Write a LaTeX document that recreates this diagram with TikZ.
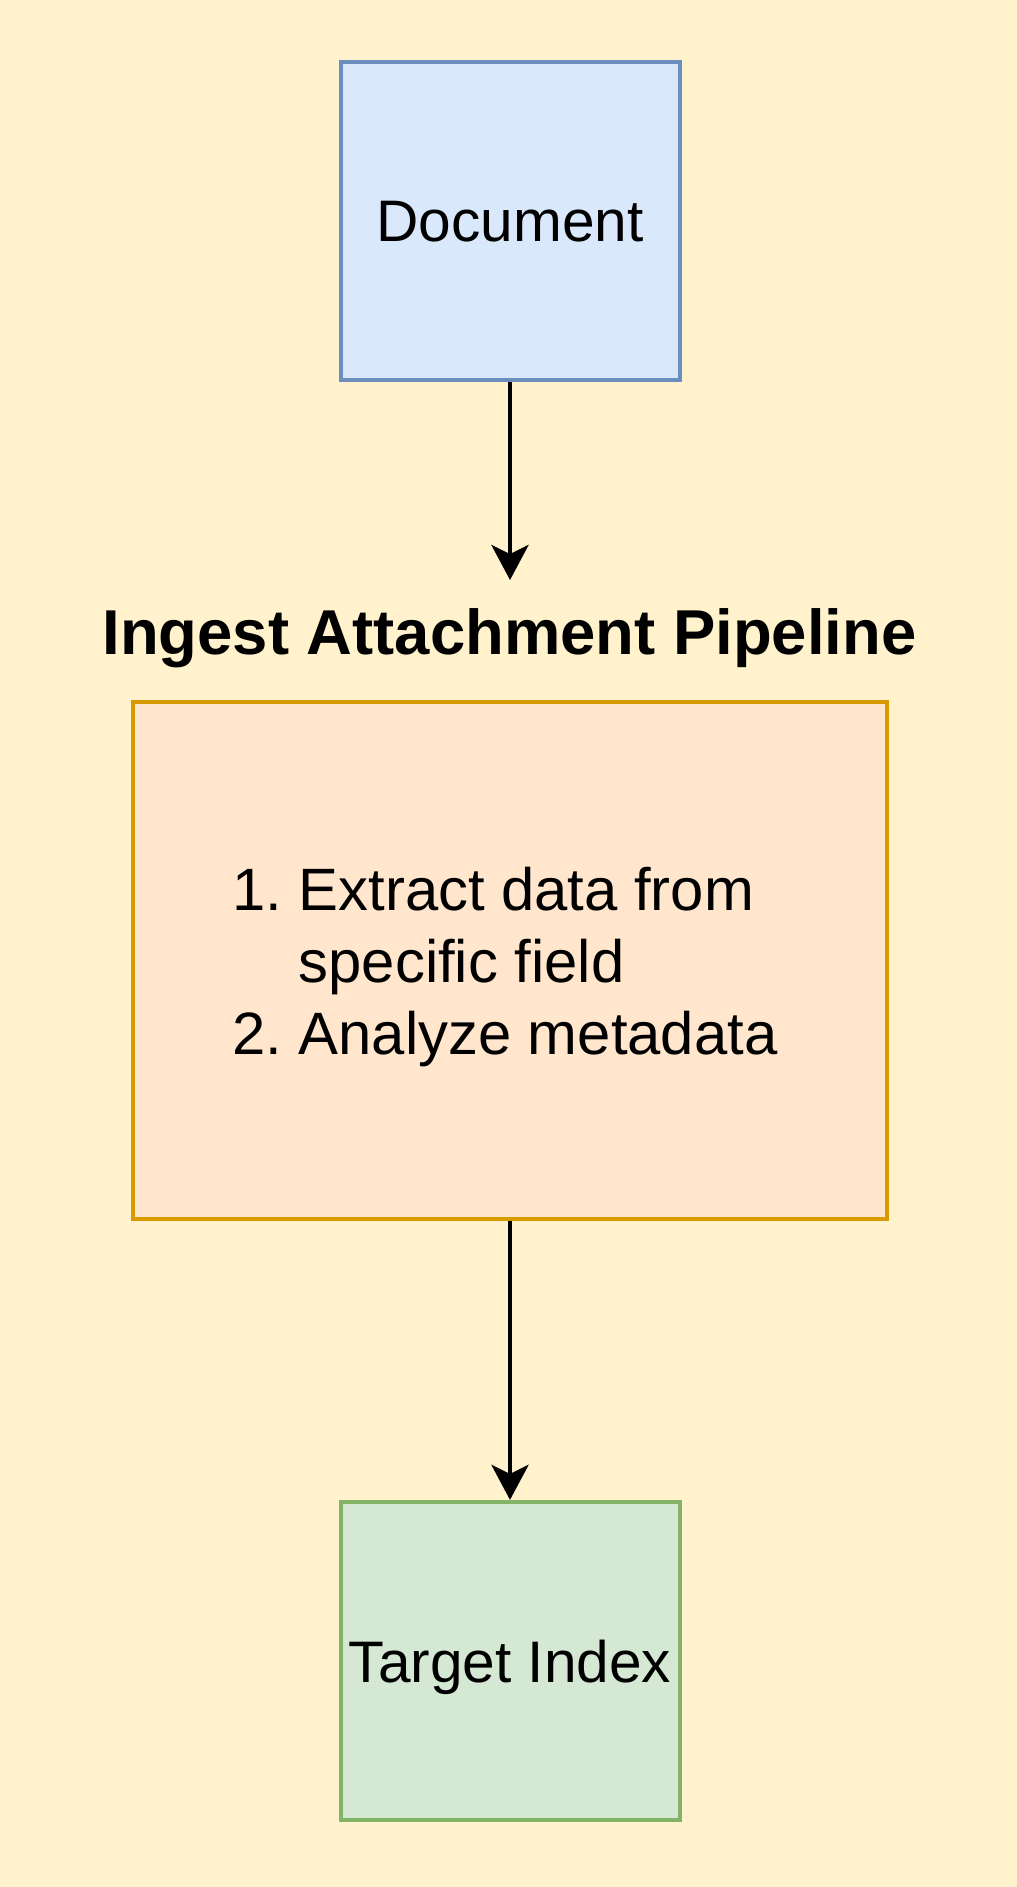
\documentclass[tikz,border=0pt]{standalone}
\usepackage{fontspec}
\setmainfont{Liberation Sans}
\usetikzlibrary{arrows.meta}
\definecolor{bg}{HTML}{FFF2CC}
\definecolor{docfill}{HTML}{DAE8FC}
\definecolor{docline}{HTML}{6C8EBF}
\definecolor{pipefill}{HTML}{FFE6CC}
\definecolor{pipeline}{HTML}{D79B00}
\definecolor{tgtfill}{HTML}{D5E8D4}
\definecolor{tgtline}{HTML}{82B366}
\begin{document}
\begin{tikzpicture}[x=1pt,y=-1pt,
  box/.style={rectangle, line width=4pt, inner sep=0pt, text depth=0pt,
    font=\fontsize{58.6}{70}\selectfont},
  arr/.style={line width=4.5pt, -{Stealth[length=35pt,width=37pt,inset=9pt]}}]
\fill[bg] (0,0) rectangle (1017,1887);
\useasboundingbox (0,0) rectangle (1017,1887);

\node (doc) [box, fill=docfill, draw=docline, minimum width=339pt, minimum height=318pt]
  at (510,220.9) {Document};

\node (title) [anchor=base, inner sep=0pt, font=\bfseries\fontsize{63.4}{76}\selectfont]
  at (509.5,654) {Ingest Attachment Pipeline};

\node (pipe) [box, fill=pipefill, draw=pipeline, minimum width=754pt, minimum height=517pt]
  at (510,960.5) {};

\node (steps) [anchor=base west, inner sep=0pt, font=\fontsize{59.8}{72}\selectfont]
  at (232,910) {\begin{tabular}[t]{@{}l@{}l@{}}
  \makebox[66.5pt][l]{1.} & Extract data from\\
   & specific field\\
  \makebox[66.5pt][l]{2.} & Analyze metadata
  \end{tabular}};

\node (target) [box, fill=tgtfill, draw=tgtline, minimum width=339pt, minimum height=318pt]
  at (510,1660.9) {Target Index};

\coordinate (tip) at (510,580);
\draw[arr] (doc.south) -- (tip);
\draw[arr] (pipe.south) -- (target.north);
\end{tikzpicture}
\end{document}
